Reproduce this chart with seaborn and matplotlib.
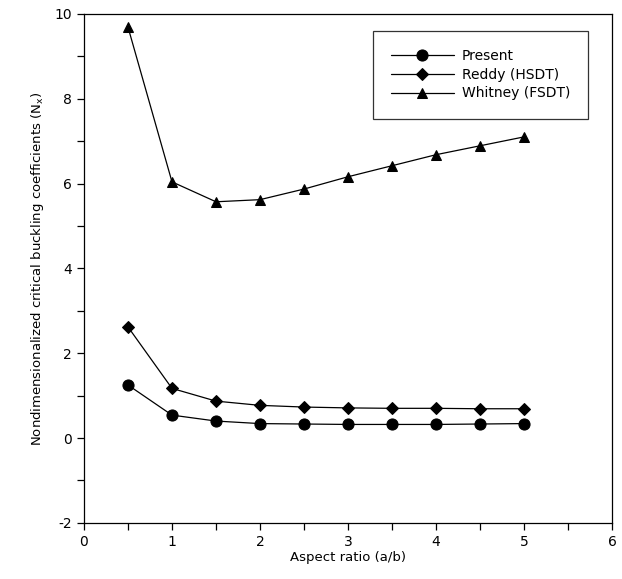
import matplotlib
matplotlib.use("Agg")
import matplotlib.pyplot as plt
import seaborn as sns
import pandas as pd
from matplotlib.ticker import MultipleLocator

aspect = [0.5, 1.0, 1.5, 2.0, 2.5, 3.0, 3.5, 4.0, 4.5, 5.0]
present = [1.25, 0.54, 0.40, 0.34, 0.33, 0.32, 0.32, 0.32, 0.33, 0.34]
reddy = [2.62, 1.17, 0.87, 0.77, 0.73, 0.71, 0.70, 0.70, 0.69, 0.69]
whitney = [9.69, 6.04, 5.57, 5.62, 5.87, 6.16, 6.42, 6.68, 6.89, 7.10]
series_names = ["Present", "Reddy (HSDT)", "Whitney (FSDT)"]

df = pd.concat([
    pd.DataFrame({"x": aspect, "y": present, "s": series_names[0]}),
    pd.DataFrame({"x": aspect, "y": reddy, "s": series_names[1]}),
    pd.DataFrame({"x": aspect, "y": whitney, "s": series_names[2]}),
])

sns.set_theme(style="ticks")
plt.rcParams['font.family'] = ['DejaVu Sans']
plt.rcParams['axes.unicode_minus'] = False
plt.rcParams['text.color'] = 'black'
plt.rcParams['axes.labelcolor'] = 'black'
plt.rcParams['xtick.color'] = 'black'
plt.rcParams['ytick.color'] = 'black'

fig = plt.figure(figsize=(6.22, 5.79), dpi=100)
ax = fig.add_axes([0.135, 0.097, 0.849, 0.879])

markers = {"Present": "o", "Reddy (HSDT)": "D", "Whitney (FSDT)": "^"}
sizes = {"Present": 8, "Reddy (HSDT)": 6, "Whitney (FSDT)": 7.5}
for name in series_names:
    sub = df[df["s"] == name]
    sns.lineplot(data=sub, x="x", y="y", ax=ax, color="black", linewidth=0.9,
                 marker=markers[name], markersize=sizes[name],
                 markeredgecolor="black", markerfacecolor="black", label=name)

ax.set_xlim(0, 6)
ax.set_ylim(-2, 10)
ax.xaxis.set_major_locator(MultipleLocator(1))
ax.xaxis.set_minor_locator(MultipleLocator(0.5))
ax.yaxis.set_major_locator(MultipleLocator(2))
ax.yaxis.set_minor_locator(MultipleLocator(1))
ax.tick_params(axis="both", which="major", direction="out", length=5, width=0.9,
               labelsize=10, colors="black")
ax.tick_params(axis="both", which="minor", direction="out", length=5, width=0.9,
               colors="black")
for sp in ax.spines.values():
    sp.set_visible(True)
    sp.set_color("black")
    sp.set_linewidth(0.9)

ax.set_xlabel("Aspect ratio (a/b)", fontsize=9.5, labelpad=2, color="black")
ax.set_ylabel(r"Nondimensionalized critical buckling coefficients (N$_\mathregular{x}$)",
              fontsize=9.5, labelpad=6, color="black")

leg = ax.legend(loc="upper right", bbox_to_anchor=(0.955, 0.967), frameon=True,
                fancybox=False, edgecolor="black", fontsize=10, handlelength=4.5,
                borderpad=1.3, labelspacing=0.35, handletextpad=0.6, borderaxespad=0)
leg.get_frame().set_linewidth(0.9)
for t in leg.get_texts():
    t.set_color("black")

fig.savefig("out.png", dpi=100, facecolor="white")
